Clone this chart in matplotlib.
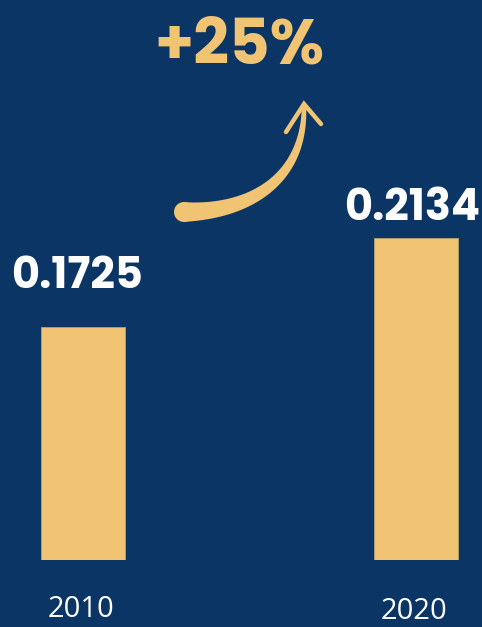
import numpy as np
import matplotlib
matplotlib.use("Agg")
import matplotlib.pyplot as plt
from matplotlib.patches import Polygon, Circle

years = ["2010", "2020"]
values = [0.1725, 0.2134]
value_labels = ["0.1725", "0.2134"]
change_label = "+25%"

BG = "#0b3565"
GOLD = "#f0c472"
W, H = 482, 627
DPI = 100
BOLD_FONT = ["Poppins", "DejaVu Sans"]
REG_FONT = ["Open Sans", "DejaVu Sans"]

fig = plt.figure(figsize=(W / DPI, H / DPI), dpi=DPI, facecolor=BG)

# bar axes
base_px = 560
ax = fig.add_axes([0, (H - base_px) / H, 1, base_px / H])
ax.set_facecolor(BG)
ax.patch.set_alpha(0)
x = np.arange(len(years))
ax.bar(x, values, width=0.252, color=GOLD, edgecolor="#b8a070", linewidth=0.6)
ax.set_xlim(-0.2492, 1.1982)
ax.set_ylim(0.0654, 0.0654 + base_px / 2173)
ax.axis("off")

# value labels
label_offsets = [(-6, 39), (-4, 18)]  # pixels
for xi, v, lab, (dx, dy) in zip(x, values, value_labels, label_offsets):
    ax.annotate(lab, xy=(xi, v), xytext=(dx * 72 / DPI, dy * 72 / DPI),
                textcoords="offset points", ha="center", va="baseline",
                color="white", fontsize=31, fontweight=700, family=BOLD_FONT)

# year labels
year_base = [3, 1]  # figure pixels from bottom
year_dx = [-2, -2]
for xi, yr, yb, dx in zip(x, years, year_base, year_dx):
    ax.annotate(yr, xy=(xi, yb), xycoords=("data", "figure pixels"),
                xytext=(dx * 72 / DPI, 0), textcoords="offset points",
                ha="center", va="bottom", color="white", fontsize=21,
                family=REG_FONT)

# overlay for arrow and change label (pixel coordinates, y down)
ov = fig.add_axes([0, 0, 1, 1])
ov.set_xlim(0, W)
ov.set_ylim(H, 0)
ov.axis("off")
ov.patch.set_alpha(0)

ov.text(239, 63, change_label, ha="center", va="baseline", color=GOLD,
        fontsize=45, fontweight=700, family=BOLD_FONT)

# tapered curved arrow
P0 = np.array([184, 212.0])
P1 = np.array([252, 212.0])
P2 = np.array([304, 178.0])
P3 = np.array([304, 108.0])
t = np.linspace(0, 1, 80)[:, None]
pts = (1 - t) ** 3 * P0 + 3 * (1 - t) ** 2 * t * P1 + 3 * (1 - t) * t ** 2 * P2 + t ** 3 * P3
d = (-3 * (1 - t) ** 2 * P0 + 3 * ((1 - t) ** 2 - 2 * t * (1 - t)) * P1
     + 3 * (2 * t * (1 - t) - t ** 2) * P2 + 3 * t ** 2 * P3)
d = d / np.linalg.norm(d, axis=1, keepdims=True)
nrm = np.column_stack([-d[:, 1], d[:, 0]])
w = (20 - 15.5 * t[:, 0] ** 0.8) / 2
left = pts + nrm * w[:, None]
right = pts - nrm * w[:, None]
poly = np.vstack([left, right[::-1]])
ov.add_patch(Polygon(poly, closed=True, facecolor=GOLD, edgecolor="none"))
ov.add_patch(Circle(P0, 10, facecolor=GOLD, edgecolor="none"))
# arrow head
tip = np.array([304, 104.0])
ov.plot([286, tip[0], 321], [132, tip[1], 124], color=GOLD, lw=3.2,
        solid_capstyle="round", solid_joinstyle="miter")

fig.savefig("out.png", dpi=DPI, facecolor=BG)
